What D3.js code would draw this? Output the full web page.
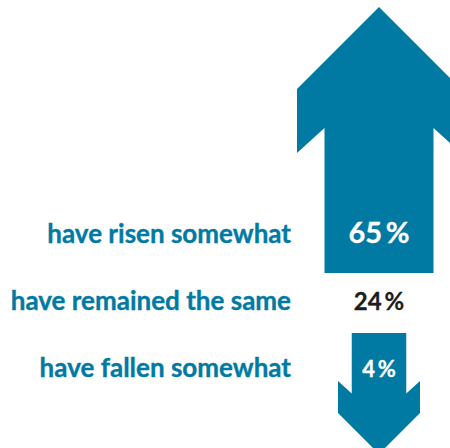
<!DOCTYPE html>
<html>
<head>
<meta charset="utf-8">
<script src="https://cdn.jsdelivr.net/npm/d3@7"></script>
<style>
  html, body { margin: 0; padding: 0; background: #fff; }
  svg { display: block; }
  .label { font-family: Lato, sans-serif; font-weight: 700; fill: #007aa3; stroke: #007aa3; stroke-width: 0.35px; }
  .value { font-family: Lato, sans-serif; font-weight: 700; stroke-width: 0.3px; }
</style>
</head>
<body>
<div id="chart"></div>
<script>
const categories = ["have risen somewhat", "have remained the same", "have fallen somewhat"];
const values = [65, 24, 4];
const directions = ["up", "none", "down"];

const width = 450, height = 448;
const teal = "#007aa3";

const svg = d3.select("#chart").append("svg")
  .attr("width", width)
  .attr("height", height);

// row baselines
const y = d3.scalePoint()
  .domain(categories)
  .range([243, 377]);

const labelX = 291;
const arrowX = 379;

// arrow size and length follow the value
const size = d3.scaleLinear().domain([4, 65]).range([0.5, 1]);
const length = d3.scaleLinear().domain([4, 65]).range([121, 266]);

function arrowPath(cx, base, len, s, dir) {
  // dir -1 = up, +1 = down; base is where the shaft starts
  const shaft = 54.5 * s, wing = 82 * s;
  const tip = base + dir * len;
  const wingOuter = tip - dir * 82 * s;
  const wingBack = tip - dir * 146 * s;
  const wingInner = tip - dir * 121 * s;
  return d3.line()([
    [cx - shaft, base],
    [cx - shaft, wingInner],
    [cx - wing, wingBack],
    [cx - wing, wingOuter],
    [cx, tip],
    [cx + wing, wingOuter],
    [cx + wing, wingBack],
    [cx + shaft, wingInner],
    [cx + shaft, base]
  ]) + "Z";
}

const rows = categories.map((c, i) => ({ cat: c, value: values[i], dir: directions[i] }));

// arrows
rows.filter(d => d.dir !== "none").forEach(d => {
  const s = size(d.value);
  const len = length(d.value);
  const base = d.dir === "up" ? y(d.cat) + 30 : y(d.cat) - 44;
  svg.append("path")
    .attr("d", arrowPath(arrowX, base, len, s, d.dir === "up" ? -1 : 1))
    .attr("fill", teal);
});

// category labels
svg.selectAll("text.label")
  .data(rows)
  .enter()
  .append("text")
  .attr("class", "label")
  .attr("x", labelX)
  .attr("y", d => y(d.cat))
  .attr("text-anchor", "end")
  .style("font-size", "26px")
  .text(d => d.cat);

// values
const fontSize = { up: 29, none: 24, down: 22 };
svg.selectAll("text.value")
  .data(rows)
  .enter()
  .append("text")
  .attr("class", "value")
  .attr("x", arrowX)
  .attr("y", d => y(d.cat))
  .attr("text-anchor", "middle")
  .attr("fill", d => d.dir === "none" ? "#1d1d1b" : "#fff")
  .attr("stroke", d => d.dir === "none" ? "#1d1d1b" : "#fff")
  .style("font-size", d => fontSize[d.dir] + "px")
  .text(d => d.value + "\u2009%");
</script>
</body>
</html>
